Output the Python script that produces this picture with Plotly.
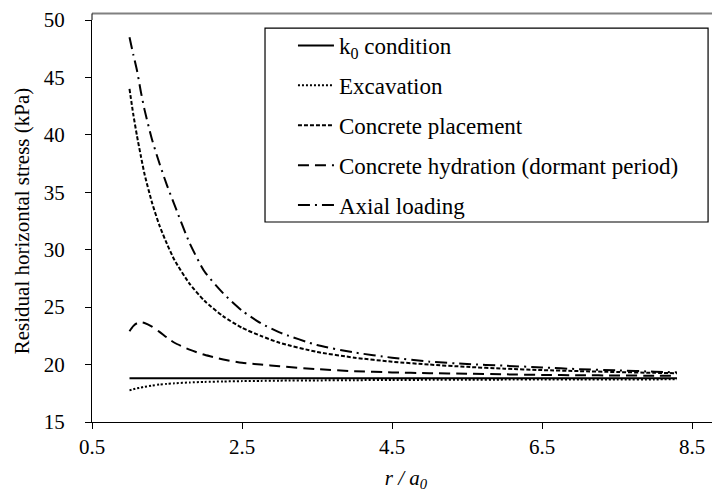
import plotly.graph_objects as go

r = [1.0, 1.05, 1.1, 1.15, 1.2, 1.3, 1.4, 1.5, 1.6, 1.8, 2.0, 2.25, 2.5, 2.75,
     3.0, 3.5, 4.0, 4.5, 5.0, 5.5, 6.0, 6.5, 7.0, 7.5, 8.0, 8.3]

k0_condition = [18.8] * 26
excavation = [17.75, 17.85, 17.93, 18.0, 18.06, 18.17, 18.26, 18.32, 18.37, 18.44,
              18.49, 18.53, 18.56, 18.58, 18.6, 18.62, 18.64, 18.66, 18.67, 18.68,
              18.69, 18.7, 18.7, 18.71, 18.71, 18.72]
concrete_placement = [44.0, 41.8, 39.9, 38.2, 36.6, 34.1, 32.1, 30.5, 29.1, 27.05,
                      25.55, 24.2, 23.2, 22.5, 21.9, 21.1, 20.6, 20.25, 20.0, 19.8,
                      19.64, 19.52, 19.43, 19.35, 19.28, 19.25]
concrete_hydration = [22.9, 23.35, 23.6, 23.68, 23.62, 23.3, 22.85, 22.35, 21.9, 21.3,
                      20.85, 20.45, 20.15, 20.0, 19.85, 19.6, 19.42, 19.32, 19.25, 19.2,
                      19.15, 19.1, 19.07, 19.05, 19.03, 19.02]
axial_loading = [48.5, 47.0, 45.6, 43.8, 42.2, 39.6, 37.5, 35.6, 33.9, 30.6,
                 28.1, 26.2, 24.7, 23.6, 22.8, 21.7, 21.05, 20.6, 20.25, 20.05,
                 19.9, 19.75, 19.6, 19.5, 19.38, 19.32]

names = ["k<sub>0</sub> condition", "Excavation", "Concrete placement",
         "Concrete hydration (dormant period)", "Axial loading"]
series = [k0_condition, excavation, concrete_placement, concrete_hydration, axial_loading]
dashes = ["solid", "2px,2px", "4px,2px", "11px,6px", "12px,5px,2px,5px"]

x_ticks = [0.5, 2.5, 4.5, 6.5, 8.5]
y_ticks = [15, 20, 25, 30, 35, 40, 45, 50]

FONT = "Liberation Serif"

fig = go.Figure()
for i, (nm, ys, ds) in enumerate(zip(names, series, dashes)):
    fig.add_trace(go.Scatter(
        x=r, y=ys, name=nm, mode="lines", legendgroup=str(i),
        line=dict(color="black", width=2, dash=ds, shape="spline", smoothing=0.6),
    ))

# the page adds an 8px body margin, so the figure is 712x484
fig.update_layout(
    width=712, height=484,
    margin=dict(l=84, r=0, t=12, b=70, autoexpand=False),
    paper_bgcolor="white", plot_bgcolor="white",
    font=dict(family=FONT, size=21, color="black"),
    showlegend=True,
    legend=dict(
        x=0.32, y=0.990, xanchor="left", yanchor="top",
        bgcolor="rgba(0,0,0,0)", borderwidth=0,
        font=dict(family=FONT, size=23, color="black"),
        tracegroupgap=7, itemwidth=36,
    ),
    xaxis=dict(
        range=[0.5, 8.873], tickvals=x_ticks, ticktext=[str(v) for v in x_ticks],
        showgrid=False, zeroline=False, showline=True, linecolor="black", linewidth=1,
        ticks="outside", ticklen=6, tickcolor="black", automargin=False,
        tickfont=dict(family=FONT, size=21), ticklabeloverflow="allow",
        title=dict(text="<i>r / a<sub>0</sub></i>", font=dict(family=FONT, size=21), standoff=12),
    ),
    yaxis=dict(
        range=[15, 50], tickvals=y_ticks,
        showgrid=False, zeroline=False, showline=True, linecolor="black", linewidth=1,
        ticks="outside", ticklen=6, tickcolor="black", ticklabelstandoff=16,
        automargin=False,
        tickfont=dict(family=FONT, size=21), ticklabeloverflow="allow",
        title=dict(text="Residual horizontal stress (kPa)", font=dict(family=FONT, size=21), standoff=8),
    ),
    shapes=[
        dict(type="line", xref="paper", yref="paper", x0=0, x1=1, y0=1.0162, y1=1.0162,
             line=dict(color="#808080", width=2)),
        dict(type="line", xref="paper", yref="paper", x0=0, x1=0, y0=1.0, y1=1.0162,
             line=dict(color="black", width=1)),
        dict(type="rect", xref="paper", yref="paper", x0=0.2755, x1=0.981,
             y0=0.4975, y1=0.980, line=dict(color="black", width=1.2)),
    ],
)

fig.write_html("out.html")
